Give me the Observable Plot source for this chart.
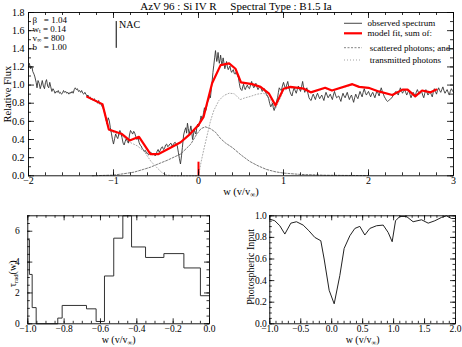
<!DOCTYPE html>
<html><head><meta charset="utf-8">
<script src="https://cdn.jsdelivr.net/npm/d3@7"></script>
<script src="https://cdn.jsdelivr.net/npm/@observablehq/plot@0.6"></script>
<style>
html,body{margin:0;padding:0;background:#fff;}
#chart{position:relative;width:462px;height:347px;overflow:hidden;background:#fff;}
#chart svg{position:absolute;}
</style></head><body><div id="chart"></div>
<script>
// ---------------- DATA ----------------
const title = "AzV 96 : Si IV R\u00a0\u00a0\u00a0\u00a0\u00a0Spectral Type : B1.5 Ia";
const params = ["\u03b2\u00a0\u00a0 = 1.04", "w_{t} = 0.14", "v_{\u221e} = 800", "b\u00a0\u00a0 = 1.00"];

// observed spectrum [w, flux]
const observed = [
[-2.000,1.20],[-1.990,1.24],[-1.975,1.18],[-1.960,1.21],[-1.950,1.15],[-1.935,1.12],[-1.925,1.09],[-1.910,1.03],[-1.900,0.97],[-1.888,1.05],[-1.875,1.02],[-1.862,0.96],[-1.850,1.00],[-1.838,1.05],[-1.825,0.99],[-1.812,0.96],[-1.800,1.03],[-1.788,1.06],[-1.775,0.99],[-1.762,0.97],[-1.750,1.03],[-1.738,0.98],[-1.725,0.93],[-1.712,0.96],[-1.700,0.94],[-1.688,0.91],[-1.675,0.93],[-1.662,0.92],[-1.650,0.94],[-1.637,0.91],[-1.625,0.92],[-1.612,0.90],[-1.600,0.91],[-1.588,0.94],[-1.575,0.92],[-1.562,0.93],[-1.550,0.91],[-1.537,0.92],[-1.525,0.90],[-1.512,0.92],[-1.500,0.91],[-1.487,0.93],[-1.475,0.91],[-1.462,0.95],[-1.450,0.97],[-1.437,0.95],[-1.425,0.96],[-1.412,0.93],[-1.400,0.94],[-1.387,0.92],[-1.375,0.94],[-1.362,0.91],[-1.350,0.90],[-1.337,0.92],[-1.325,0.90],[-1.312,0.88],[-1.300,0.89],
[-1.287,0.86],[-1.275,0.87],[-1.262,0.84],[-1.250,0.85],[-1.237,0.83],[-1.225,0.85],[-1.212,0.82],[-1.200,0.83],[-1.187,0.80],[-1.175,0.83],[-1.162,0.79],[-1.150,0.80],[-1.137,0.77],[-1.125,0.75],[-1.112,0.73],[-1.100,0.68],[-1.087,0.62],[-1.075,0.57],[-1.062,0.64],[-1.050,0.61],[-1.037,0.53],[-1.025,0.47],[-1.012,0.40],[-1.000,0.35],[-0.987,0.41],[-0.975,0.46],[-0.962,0.43],[-0.950,0.41],[-0.937,0.46],[-0.925,0.50],[-0.912,0.47],[-0.900,0.42],[-0.887,0.36],[-0.875,0.34],[-0.862,0.38],[-0.850,0.41],[-0.837,0.38],[-0.825,0.36],[-0.812,0.45],[-0.800,0.50],[-0.787,0.48],[-0.775,0.46],[-0.762,0.49],[-0.750,0.47],[-0.737,0.43],[-0.725,0.40],[-0.712,0.42],[-0.700,0.37],[-0.687,0.34],[-0.675,0.33],[-0.662,0.30],[-0.650,0.29],[-0.637,0.27],[-0.625,0.28],[-0.612,0.25],[-0.600,0.25],
[-0.587,0.23],[-0.575,0.24],[-0.562,0.26],[-0.550,0.25],[-0.537,0.23],[-0.525,0.24],[-0.512,0.22],[-0.500,0.23],[-0.487,0.27],[-0.475,0.29],[-0.462,0.26],[-0.450,0.28],[-0.437,0.31],[-0.425,0.32],[-0.412,0.29],[-0.400,0.30],[-0.387,0.34],[-0.375,0.35],[-0.362,0.32],[-0.350,0.33],[-0.337,0.35],[-0.325,0.36],[-0.312,0.33],[-0.300,0.34],[-0.287,0.36],[-0.275,0.37],[-0.262,0.35],[-0.250,0.33],[-0.237,0.26],[-0.225,0.19],[-0.212,0.13],[-0.200,0.22],[-0.190,0.31],[-0.175,0.45],[-0.162,0.50],[-0.150,0.53],[-0.140,0.47],[-0.130,0.58],[-0.120,0.52],[-0.110,0.46],[-0.100,0.50],[-0.090,0.55],[-0.080,0.49],[-0.070,0.40],[-0.060,0.45],[-0.050,0.51],[-0.040,0.48],[-0.030,0.46],[-0.020,0.53],[-0.010,0.57],[0.000,0.54],[0.010,0.56],
[0.020,0.61],[0.030,0.66],[0.040,0.62],[0.050,0.64],[0.060,0.70],[0.070,0.75],[0.080,0.71],[0.090,0.73],[0.100,0.79],[0.110,0.82],[0.120,0.84],[0.130,0.88],[0.140,0.86],[0.150,0.95],[0.160,1.04],[0.170,1.14],[0.180,1.22],[0.190,1.30],[0.200,1.38],[0.208,1.31],[0.215,1.26],[0.223,1.30],[0.230,1.36],[0.238,1.29],[0.245,1.24],[0.253,1.28],[0.260,1.33],[0.268,1.27],[0.275,1.22],[0.283,1.26],[0.290,1.30],[0.300,1.24],[0.310,1.18],[0.320,1.22],[0.330,1.26],[0.340,1.20],[0.350,1.17],[0.360,1.19],[0.370,1.21],[0.380,1.16],[0.390,1.14],[0.400,1.16],[0.410,1.17],[0.420,1.13],[0.430,1.12],[0.440,1.14],[0.450,1.13],[0.460,1.10],[0.470,1.08],[0.480,1.02],[0.490,0.97],[0.500,0.95],[0.510,0.94],[0.520,0.98],[0.530,1.01],[0.540,0.97],[0.550,0.95],[0.562,0.98],[0.575,1.00],[0.587,0.97],[0.600,0.96],[0.612,1.00],[0.625,1.04],[0.637,1.00],[0.650,0.97],[0.662,0.99],[0.675,1.02],[0.687,0.98],[0.700,0.95],[0.712,0.97],[0.725,0.99],[0.737,0.96],[0.750,0.93],[0.762,0.95],[0.775,0.96],[0.787,0.92],[0.800,0.90],[0.812,0.88],[0.825,0.85],[0.837,0.80],[0.850,0.76],[0.860,0.78],[0.870,0.80],[0.880,0.75],[0.890,0.72],[0.900,0.75],[0.910,0.78],[0.920,0.83],[0.930,0.86],[0.940,0.92],[0.950,0.97],[0.962,0.95],[0.975,0.94],[0.987,0.99],[1.000,1.03],
[1.012,0.99],[1.025,0.96],[1.037,1.00],[1.050,1.04],[1.062,0.98],[1.075,0.93],[1.087,0.90],[1.100,0.88],[1.112,0.93],[1.125,0.97],[1.137,0.94],[1.150,0.91],[1.162,0.95],[1.175,0.99],[1.187,0.96],[1.200,0.93],[1.212,0.98],[1.225,1.04],[1.237,0.97],[1.250,0.92],[1.262,0.95],[1.275,0.97],[1.287,0.91],[1.300,0.86],[1.312,0.84],[1.325,0.83],[1.337,0.87],[1.350,0.90],[1.362,0.87],[1.375,0.84],[1.387,0.88],[1.400,0.91],[1.412,0.88],[1.425,0.85],[1.437,0.87],[1.450,0.89],[1.462,0.86],[1.475,0.83],[1.487,0.88],[1.500,0.92],[1.512,0.89],[1.525,0.86],[1.537,0.88],[1.550,0.90],[1.562,0.87],[1.575,0.84],[1.587,0.89],[1.600,0.93],[1.612,0.89],[1.625,0.86],[1.637,0.87],[1.650,0.88],[1.662,0.85],[1.675,0.82],[1.687,0.87],[1.700,0.91],[1.712,0.88],[1.725,0.86],[1.737,0.89],[1.750,0.92],[1.762,0.88],[1.775,0.84],[1.787,0.87],[1.800,0.89],[1.812,0.85],[1.825,0.81],[1.837,0.86],[1.850,0.90],[1.862,0.87],[1.875,0.85],[1.887,0.89],[1.900,0.93],[1.912,0.90],[1.925,0.87],[1.937,0.92],[1.950,0.96],[1.962,0.92],[1.975,0.89],[1.987,0.91],[2.000,0.93],[2.012,0.90],[2.025,0.87],[2.037,0.90],[2.050,0.92],[2.062,0.89],[2.075,0.86],[2.087,0.90],[2.100,0.94],[2.112,0.91],[2.125,0.88],[2.137,0.93],[2.150,0.97],[2.162,0.93],[2.175,0.90],[2.187,0.87],[2.200,0.85],[2.212,0.83],[2.225,0.82],[2.237,0.83],[2.250,0.84],[2.262,0.85],[2.275,0.86],[2.287,0.88],[2.300,0.90],[2.312,0.92],[2.325,0.93],[2.337,0.91],[2.350,0.89],[2.362,0.93],[2.375,0.97],[2.387,0.94],[2.400,0.91],[2.412,0.93],[2.425,0.95],[2.437,0.92],[2.450,0.89],[2.462,0.92],[2.475,0.94],[2.487,0.90],[2.500,0.86],[2.512,0.89],[2.525,0.92],[2.537,0.90],[2.550,0.88],[2.562,0.92],[2.575,0.95],[2.587,0.92],[2.600,0.90],[2.612,0.92],[2.625,0.93],[2.637,0.89],[2.650,0.86],[2.662,0.91],[2.675,0.95],[2.687,0.92],[2.700,0.89],[2.712,0.91],[2.725,0.93],[2.737,0.90],[2.750,0.87],[2.762,0.92],[2.775,0.96],[2.787,0.93],[2.800,0.90],[2.812,0.94],[2.825,0.97],[2.837,0.94],[2.850,0.92],[2.862,0.95],[2.875,0.98],[2.887,0.94],[2.900,0.91],[2.912,0.93],[2.925,0.95],[2.937,0.92],[2.950,0.89],[2.962,0.93],[2.975,0.96],[2.987,0.94],[3.000,0.92]
];

// model fit (red)
const modelFit = [
[-1.31,0.87],[-1.13,0.79],[-1.055,0.51],[-0.90,0.46],[-0.81,0.39],[-0.70,0.43],[-0.565,0.24],[-0.47,0.24],[-0.33,0.31],[-0.21,0.37],[-0.10,0.46],[0.0,0.56],[0.06,0.65],[0.16,1.02],[0.26,1.22],[0.36,1.24],[0.435,1.18],[0.50,1.03],[0.63,1.01],[0.73,0.98],[0.83,0.905],[0.906,0.776],[1.0,0.96],[1.08,0.98],[1.24,0.96],[1.32,0.92],[1.49,0.97],[1.57,0.94],[1.81,1.01],[1.89,0.98],[2.0,0.97],[2.12,0.93],[2.28,0.89],[2.40,0.95],[2.46,0.95],[2.55,0.875],[2.63,0.94],[2.73,0.92],[2.80,0.95]
];

// scattered photons (dashed)
const scattered = [
[-1.25,0.0],[-1.0,0.008],[-0.9,0.02],[-0.76,0.04],[-0.65,0.07],[-0.565,0.095],[-0.45,0.14],[-0.37,0.17],[-0.21,0.24],[-0.09,0.35],[-0.02,0.46],[0.03,0.52],[0.08,0.54],[0.14,0.52],[0.2,0.48],[0.26,0.41],[0.32,0.36],[0.4,0.31],[0.5,0.23],[0.6,0.16],[0.7,0.11],[0.8,0.07],[0.9,0.045],[1.0,0.03],[1.2,0.015],[1.5,0.006],[2.0,0.002]
];

// transmitted photons (dotted)
const transmitted = [
[-1.31,0.87],[-1.13,0.78],[-1.055,0.50],[-0.90,0.44],[-0.81,0.37],[-0.72,0.33],[-0.64,0.27],[-0.56,0.16],[-0.49,0.09],[-0.43,0.035],[-0.38,0.01],[-0.3,0.0],[0.0,0.0],[0.03,0.15],[0.06,0.28],[0.10,0.44],[0.14,0.60],[0.18,0.72],[0.24,0.83],[0.30,0.886],[0.36,0.91],[0.42,0.905],[0.49,0.84],[0.55,0.86],[0.61,0.875],[0.69,0.90],[0.77,0.91],[0.83,0.86],[0.906,0.74],[1.0,0.94],[1.08,0.97],[1.24,0.955],[1.32,0.915],[1.49,0.965],[1.57,0.935],[1.81,1.005],[1.89,0.978],[2.0,0.97],[2.12,0.93],[2.28,0.89],[2.40,0.95],[2.46,0.95],[2.55,0.875],[2.63,0.94],[2.73,0.92],[2.80,0.95]
];

// NAC marker and rest-wavelength marker
const nac = {w: -0.968, f1: 1.405, f2: 1.70, label: "NAC", labelW: -0.935, labelF: 1.66};
const restMark = {w: 0, f1: 0, f2: 0.15};

// tau_rad(w) steps
const tauW = [-1.0,-0.991,-0.976,-0.954,-0.835,-0.811,-0.677,-0.624,-0.578,-0.527,-0.477,-0.429,-0.352,-0.251,-0.141,-0.050,0.0];
const tauV = [5.45,3.2,1.05,0.0,0.37,1.19,0.97,0.15,3.1,5.55,7.0,4.98,4.3,4.55,3.62,1.82,1.82];

// photospheric input
const photW = [-1.0,-0.919,-0.838,-0.757,-0.660,-0.569,-0.461,-0.369,-0.273,-0.176,-0.122,-0.041,0.040,0.131,0.201,0.293,0.374,0.454,0.535,0.616,0.724,0.832,0.912,0.977,1.031,1.101,1.208,1.315,1.451,1.559,1.666,1.774,1.855,1.935,2.0];
const photV = [0.969,0.954,0.908,0.831,0.932,0.945,0.914,0.862,0.800,0.769,0.600,0.310,0.185,0.446,0.698,0.815,0.883,0.902,0.822,0.883,0.908,0.914,0.846,0.760,0.954,0.994,0.994,0.945,0.963,0.932,0.954,0.985,1.0,0.975,0.975];

// tick labels
const topXTicks = [-2,-1,0,1,2,3];
const topYTicks = [0,0.2,0.4,0.6,0.8,1.0,1.2,1.4,1.6,1.8];
const blXTicks = [-1.0,-0.8,-0.6,-0.4,-0.2,0.0];
const blYTicks = [0,2,4,6];
const brXTicks = [-1.0,-0.5,0.0,0.5,1.0,1.5,2.0];
const brYTicks = [0,0.2,0.4,0.6,0.8,1.0];

const legendItems = [
  {label: "observed spectrum", stroke: "#555", width: 1.1, dash: null},
  {label: "model fit, sum of:", stroke: "#ff0000", width: 2.2, dash: null},
  {label: " scattered photons; and", stroke: "#777", width: 0.9, dash: "2,1.5"},
  {label: " transmitted photons", stroke: "#999", width: 0.9, dash: "1,2"}
];

// ---------------- HELPERS ----------------
const FONT = "'Liberation Serif', 'DejaVu Serif', serif";
function minorTicks(lo, hi, step) {
  return d3.range(Math.round((hi - lo) / step) + 1).map(i => +(lo + i * step).toFixed(6));
}
function tickRules(o) {
  const iw = o.width - o.ml - o.mr, ih = o.height - o.mt - o.mb;
  const s = {stroke: "#000", strokeWidth: 0.8};
  return [
    Plot.ruleX(o.xMajor, {x: d => d, insetTop: ih - o.maj, ...s}),
    Plot.ruleX(o.xMajor, {x: d => d, insetBottom: ih - o.maj, ...s}),
    Plot.ruleX(o.xMinor, {x: d => d, insetTop: ih - o.min, ...s}),
    Plot.ruleX(o.xMinor, {x: d => d, insetBottom: ih - o.min, ...s}),
    Plot.ruleY(o.yMajor, {y: d => d, insetRight: iw - o.maj, ...s}),
    Plot.ruleY(o.yMajor, {y: d => d, insetLeft: iw - o.maj, ...s}),
    Plot.ruleY(o.yMinor, {y: d => d, insetRight: iw - o.min, ...s}),
    Plot.ruleY(o.yMinor, {y: d => d, insetLeft: iw - o.min, ...s})
  ];
}
function subscripts(svg) {
  d3.select(svg).selectAll("text").each(function() {
    const t = this.textContent;
    if (!t.includes("_{")) return;
    const parts = t.split(/(_\{[^}]*\})/);
    while (this.firstChild) this.removeChild(this.firstChild);
    let shifted = false;
    for (const p of parts) {
      if (!p) continue;
      const ts = d3.select(this).append("tspan");
      const m = p.match(/^_\{([^}]*)\}$/);
      if (m) { ts.text(m[1]).attr("dy", "0.22em").attr("font-size", "68%"); shifted = true; }
      else { ts.text(p); if (shifted) { ts.attr("dy", "-0.15em"); shifted = false; } }
    }
  });
}
function panel(o) {
  const svg = Plot.plot({
    width: o.width, height: o.height,
    marginLeft: o.ml, marginRight: o.mr, marginTop: o.mt, marginBottom: o.mb,
    style: {fontFamily: FONT, fontSize: "10px", background: "transparent", color: "#000"},
    x: {domain: o.xDomain},
    y: {domain: o.yDomain},
    marks: [
      ...o.marks,
      Plot.frame({stroke: "#000", strokeWidth: 0.9}),
      ...tickRules(o),
      Plot.axisX(o.xMajor, {tickSize: 0, tickPadding: o.xPad, tickFormat: o.xFmt, label: null, fontSize: o.tickFont || 10}),
      Plot.axisY(o.yMajor, {tickSize: 0, tickPadding: o.yPad, tickFormat: o.yFmt, label: null, fontSize: o.tickFont || 10}),
      Plot.text([o.xLabel], {frameAnchor: "bottom", textAnchor: "middle", lineAnchor: "middle", dy: o.xLabelDy, fontSize: o.labelFont || 10.5}),
      Plot.text([o.yLabel], {frameAnchor: "left", textAnchor: "middle", lineAnchor: "middle", rotate: -90, dx: o.yLabelDx, dy: o.yLabelDy || 0, fontSize: o.labelFont || 10.5}),
      ...(o.extra || [])
    ]
  });
  svg.style.left = o.left + "px";
  svg.style.top = o.top + "px";
  subscripts(svg);
  return svg;
}

const chart = document.getElementById("chart");
const xLab = "w (v/v_{\u221e})";

// ---------------- TOP PANEL ----------------
const topSvg = panel({
  left: 0, top: 0, width: 462, height: 200, ml: 28, mr: 9, mt: 12, mb: 24.7,
  xDomain: [-2, 3], yDomain: [0, 1.8],
  xMajor: topXTicks, xMinor: minorTicks(-2, 3, 0.2), yMajor: topYTicks, yMinor: minorTicks(0, 1.8, 0.1),
  maj: 6, min: 3, xPad: 1.5, yPad: 4,
  xFmt: d3.format("d"), yFmt: d3.format(".1f"),
  xLabel: xLab, xLabelDy: 16, yLabel: "Relative Flux", yLabelDx: -21,
  marks: [
    Plot.line(scattered, {x: d => d[0], y: d => d[1], stroke: "#6a6a6a", strokeWidth: 0.9, strokeDasharray: "2,1.6"}),
    Plot.line(transmitted, {x: d => d[0], y: d => d[1], stroke: "#a0a0a0", strokeWidth: 0.9, strokeDasharray: "1,2"}),
    Plot.line(observed, {x: d => d[0], y: d => d[1], stroke: "#333", strokeWidth: 0.9}),
    Plot.line(modelFit, {x: d => d[0], y: d => d[1], stroke: "#ff0000", strokeWidth: 2.2}),
    Plot.ruleX([restMark], {x: "w", y1: "f1", y2: "f2", stroke: "#ff0000", strokeWidth: 2}),
    Plot.ruleX([nac], {x: "w", y1: "f1", y2: "f2", stroke: "#000", strokeWidth: 1}),
    Plot.text([nac], {x: "labelW", y: "labelF", text: "label", textAnchor: "start", fontSize: 10})
  ],
  extra: [
    Plot.text([title], {frameAnchor: "top", textAnchor: "middle", lineAnchor: "middle", dy: -6, dx: -5, fontSize: 11}),
    ...params.map((p, i) => Plot.text([p], {frameAnchor: "top-left", textAnchor: "start", lineAnchor: "middle", dx: 4, dy: 7.5 + 9 * i, fontSize: 9}))
  ]
});
chart.appendChild(topSvg);

// legend (inside the top frame)
const legendRowY = [23.3, 33.3, 47.7, 60];
const lg = d3.select(topSvg).append("g").attr("font-family", FONT).attr("font-size", 9).attr("text-anchor", "start");
legendItems.forEach((it, i) => {
  lg.append("line").attr("x1", 344).attr("x2", 362).attr("y1", legendRowY[i]).attr("y2", legendRowY[i])
    .attr("stroke", it.stroke).attr("stroke-width", it.width).attr("stroke-dasharray", it.dash);
  lg.append("text").attr("x", 367.5).attr("y", legendRowY[i]).attr("dy", "0.32em").attr("text-anchor", "start")
    .style("white-space", "pre").attr("fill", "#000").text(it.label);
});

// ---------------- BOTTOM LEFT ----------------
const tauData = tauW.map((w, i) => ({w, v: tauV[i]}));
const blSvg = panel({
  left: 0, top: 200, width: 231, height: 147, ml: 27.3, mr: 22, mt: 15.3, mb: 23.7,
  xDomain: [-1, 0], yDomain: [0, 7],
  xMajor: blXTicks, xMinor: minorTicks(-1, 0, 0.05), yMajor: blYTicks, yMinor: minorTicks(0, 7, 0.5),
  maj: 5, min: 2.5, xPad: 1, yPad: 8, tickFont: 9.5, labelFont: 10,
  xFmt: d3.format(".1f"), yFmt: d3.format("d"),
  xLabel: xLab, xLabelDy: 16, yLabel: "\u03c4_{rad}(w)", yLabelDx: -15, yLabelDy: 4,
  marks: [
    Plot.line(tauData, {x: "w", y: "v", curve: "step-after", stroke: "#333", strokeWidth: 1})
  ]
});
chart.appendChild(blSvg);

// ---------------- BOTTOM RIGHT ----------------
const photData = photW.map((w, i) => ({w, v: photV[i]}));
const brSvg = panel({
  left: 231, top: 200, width: 231, height: 147, ml: 38.3, mr: 7, mt: 15.3, mb: 23.7,
  xDomain: [-1, 2], yDomain: [0, 1],
  xMajor: brXTicks, xMinor: minorTicks(-1, 2, 0.1), yMajor: brYTicks, yMinor: minorTicks(0, 1, 0.05),
  maj: 5, min: 2.5, xPad: 1, yPad: 3, tickFont: 9.5, labelFont: 10,
  xFmt: d3.format(".1f"), yFmt: d3.format(".1f"),
  xLabel: xLab, xLabelDy: 16, yLabel: "Photospheric Input", yLabelDx: -19, yLabelDy: -3,
  marks: [
    Plot.line(photData, {x: "w", y: "v", stroke: "#222", strokeWidth: 1})
  ]
});
chart.appendChild(brSvg);
</script></body></html>
